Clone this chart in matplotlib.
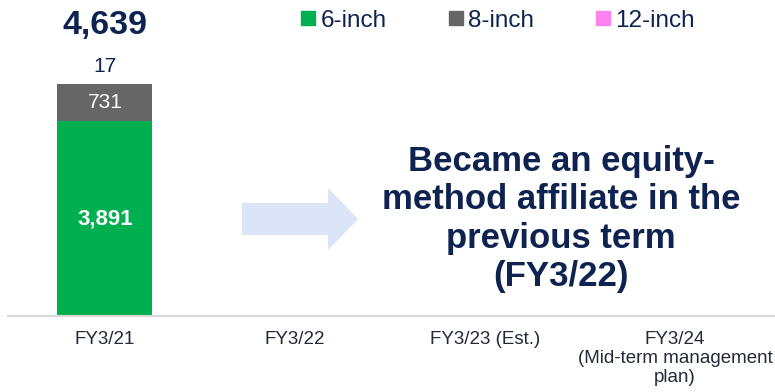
import numpy as np
import matplotlib.pyplot as plt
from matplotlib.lines import Line2D
from matplotlib.patches import FancyArrow

plt.rcParams['font.family'] = ['Liberation Sans', 'DejaVu Sans']

categories = ["FY3/21", "FY3/22", "FY3/23 (Est.)", "FY3/24\n(Mid-term management\nplan)"]
six_inch = [3891, np.nan, np.nan, np.nan]
eight_inch = [731, np.nan, np.nan, np.nan]
twelve_inch = [17, np.nan, np.nan, np.nan]
totals = [4639, np.nan, np.nan, np.nan]

navy = "#0f2350"
green = "#00b050"
gray = "#666666"
pink = "#ff80f0"

fig = plt.figure(figsize=(7.75, 3.92), dpi=100)
ax = fig.add_axes([8/775, 76/392, 767/775, 316/392])

x = np.arange(len(categories))
six = np.array(six_inch, dtype=float)
eight = np.array(eight_inch, dtype=float)
twelve = np.array(twelve_inch, dtype=float)

ax.bar(x, six, width=0.5, color=green)
ax.bar(x, eight, width=0.5, bottom=six, color=gray)
ax.bar(x, twelve, width=0.5, bottom=six + eight, color=pink)

ax.set_xlim(-0.51, 3.526)
ax.set_ylim(0, 6307)

# segment labels
ax.text(x[0], six[0] / 2, f"{six_inch[0]:,}", ha='center', va='center',
        color='white', fontsize=16, fontweight='bold')
ax.text(x[0], six[0] + eight[0] / 2, f"{eight_inch[0]:,}", ha='center', va='center',
        color='white', fontsize=15)
ax.annotate(f"{twelve_inch[0]:,}", (x[0], totals[0]), xytext=(0, 12),
            textcoords='offset points', ha='center', va='center', color=navy, fontsize=15)
ax.annotate(f"{totals[0]:,}", (x[0], totals[0]), xytext=(0, 42),
            textcoords='offset points', ha='center', va='center', color=navy,
            fontsize=24.5, fontweight='bold')

# arrow and note
ax.add_patch(FancyArrow(0.721, 1936, 0.611, 0, width=639, head_width=1238,
                        head_length=0.158, length_includes_head=True,
                        color="#dce4f7", lw=0))
ax.text(2.40, 1936, "Became an equity-\nmethod affiliate in the\nprevious term\n(FY3/22)",
        ha='center', va='center', color=navy, fontsize=25, fontweight='bold',
        linespacing=1.2)

ax.set_xticks(x, categories, linespacing=1.15)
ax.tick_params(axis='x', length=0, pad=11, labelsize=13.5, labelcolor="#222a3a")
ax.set_yticks([])
for side in ['top', 'left', 'right']:
    ax.spines[side].set_visible(False)
ax.spines['bottom'].set_color("#d9d9d9")
ax.spines['bottom'].set_linewidth(1.5)

handles = [Line2D([], [], marker='s', ls='', ms=10, color=c) for c in (green, gray, pink)]
fig.legend(handles, ["6-inch", "8-inch", "12-inch"], loc='upper left',
           bbox_to_anchor=(290/775, 1.0), ncol=3, frameon=False, fontsize=17.5,
           handlelength=0.7, handletextpad=0.15, columnspacing=2.5,
           borderaxespad=0, labelcolor=navy)

fig.savefig("out.png", dpi=100)
